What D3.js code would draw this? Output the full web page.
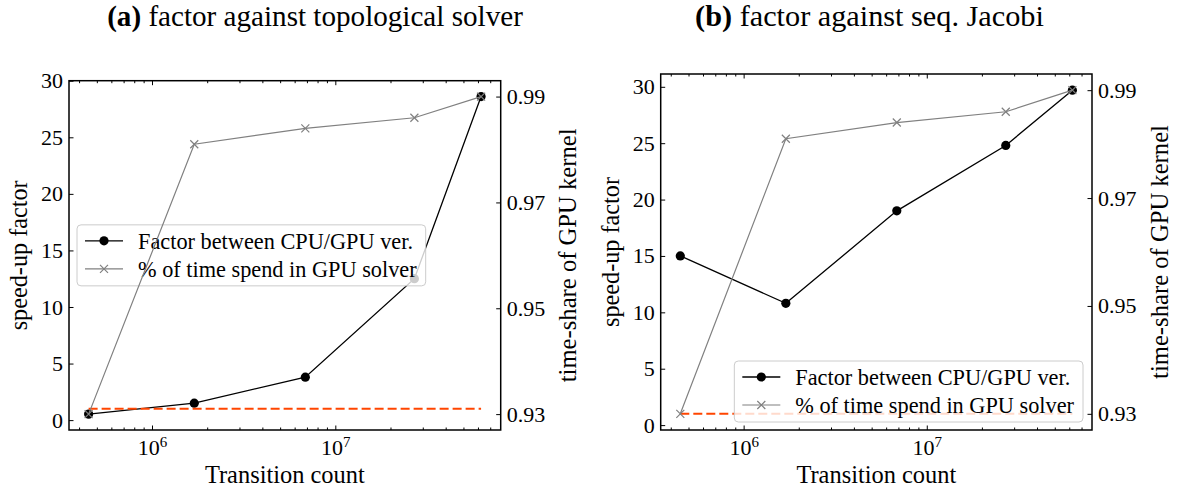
<!DOCTYPE html>
<html><head><meta charset="utf-8">
<script src="https://cdn.jsdelivr.net/npm/d3@7"></script>
<style>
body{margin:0;background:#fff}
svg text{font-family:"Liberation Serif","Times New Roman",serif;fill:#000}
</style>
</head><body>
<svg id="c" width="1177" height="489"></svg>
<script>
// ---- data ----
const transitions = [4.51e5, 1.70e6, 6.86e6, 2.70e7, 6.24e7];
const factorTopological = [0.53, 1.5, 3.8, 12.5, 28.6];
const factorJacobi = [15.0, 10.8, 19.0, 24.8, 29.7];
const gpuShare = [0.930, 0.981, 0.984, 0.986, 0.990];
const referenceFactor = 1;
const leftTicks = [0, 5, 10, 15, 20, 25, 30];
const rightTicks = [0.93, 0.95, 0.97, 0.99];
const xMajorTicks = [1e6, 1e7];
const panelTags = ["(a)", "(b)"];
const panelTitles = ["factor against topological solver", "factor against seq. Jacobi"];
const legendLabels = ["Factor between CPU/GPU ver.", "% of time spend in GPU solver"];
const xLabel = "Transition count";
const yLabel = "speed-up factor";
const y2Label = "time-share of GPU kernel";

// ---- layout ----
const panels = [
  {left: 69, right: 500.7, top: 80.7, bottom: 430, factor: factorTopological, legend: "centerLeft",
   titleCx: 315, titleW: 416},
  {left: 660.7, right: 1092, top: 74, bottom: 430, factor: factorJacobi, legend: "lowerRight",
   titleCx: 869.5, titleW: 349}
];

const svg = d3.select("#c");
const FONT = '"Liberation Serif","Times New Roman",serif';

function fit(sel, target) {
  const n = sel.node();
  const fs = parseFloat(sel.attr("font-size"));
  const w = n.getComputedTextLength();
  sel.attr("font-size", fs * target / w);
}

function padExtent(arr, frac) {
  const [a, b] = d3.extent(arr);
  const m = (b - a) * frac;
  return [a - m, b + m];
}

panels.forEach((p, i) => {
  const g = svg.append("g");
  const lx = d3.extent(transitions.map(Math.log10));
  const mx = (lx[1] - lx[0]) * 0.05;
  const x = d3.scaleLog().domain([Math.pow(10, lx[0] - mx), Math.pow(10, lx[1] + mx)]).range([p.left, p.right]);
  const y = d3.scaleLinear().domain(padExtent(p.factor.concat([referenceFactor]), 0.05)).range([p.bottom, p.top]);
  const y2 = d3.scaleLinear().domain(padExtent(gpuShare, 0.05)).range([p.bottom, p.top]);

  const pts = transitions.map((t, k) => ({t, f: p.factor[k], s: gpuShare[k]}));

  // ax1: factor line
  g.append("path").datum(pts)
    .attr("d", d3.line().x(d => x(d.t)).y(d => y(d.f)))
    .attr("fill", "none").attr("stroke", "#000").attr("stroke-width", 1.3);
  g.append("g").selectAll("circle").data(pts).join("circle")
    .attr("cx", d => x(d.t)).attr("cy", d => y(d.f)).attr("r", 4.6).attr("fill", "#000");
  // reference dashed line
  g.append("line")
    .attr("x1", x(transitions[0])).attr("x2", x(transitions[transitions.length - 1]))
    .attr("y1", y(referenceFactor)).attr("y2", y(referenceFactor))
    .attr("stroke", "#ff4500").attr("stroke-width", 2).attr("stroke-dasharray", "9,4");

  // axes ticks
  const styleAxis = a => {
    a.attr("font-family", FONT).attr("font-size", 22);
    a.select(".domain").remove();
    a.selectAll(".tick line").attr("stroke", "#000").attr("stroke-width", 1);
  };
  const minor = x.ticks().filter(v => !xMajorTicks.some(m => Math.abs(m - v) / m < 1e-9));

  g.append("g").attr("transform", `translate(${p.left},0)`)
    .call(d3.axisLeft(y).tickValues(leftTicks).tickSize(-4.5).tickPadding(6).tickFormat(d3.format("d")))
    .call(styleAxis);
  g.append("g").attr("transform", `translate(${p.right},0)`)
    .call(d3.axisRight(y2).tickValues(rightTicks).tickSize(-4.5).tickPadding(6).tickFormat(d3.format(".2f")))
    .call(styleAxis);

  const xb = g.append("g").attr("transform", `translate(0,${p.bottom})`)
    .call(d3.axisBottom(x).tickValues(xMajorTicks).tickSize(-4.5).tickPadding(5).tickFormat(() => ""))
    .call(styleAxis);
  xb.selectAll(".tick text").each(function(d) {
    const t = d3.select(this).attr("dy", "0.9em");
    t.append("tspan").text("10");
    t.append("tspan").attr("font-size", 15).attr("dy", "-0.55em").text(Math.round(Math.log10(d)));
  });
  g.append("g").attr("transform", `translate(0,${p.bottom})`)
    .call(d3.axisBottom(x).tickValues(minor).tickSize(-2.5).tickFormat(() => "")).call(styleAxis);
  g.append("g").attr("transform", `translate(0,${p.top})`)
    .call(d3.axisTop(x).tickValues(xMajorTicks).tickSize(-4.5).tickFormat(() => "")).call(styleAxis);
  g.append("g").attr("transform", `translate(0,${p.top})`)
    .call(d3.axisTop(x).tickValues(minor).tickSize(-2.5).tickFormat(() => "")).call(styleAxis);

  // legend (ax1)
  const lg = g.append("g");
  const box = lg.append("rect").attr("rx", 4).attr("ry", 4)
    .attr("fill", "#fff").attr("fill-opacity", 0.8).attr("stroke", "#cccccc").attr("stroke-width", 1);
  const t1 = lg.append("text").attr("font-size", 22).text(legendLabels[0]);
  fit(t1, 275);
  const lfs = parseFloat(t1.attr("font-size"));
  const t2 = lg.append("text").attr("font-size", lfs).text(legendLabels[1]);
  const tw = Math.max(t1.node().getComputedTextLength(), t2.node().getComputedTextLength());
  const bw = 61 + tw + 9, bh = 61;
  let bx, by;
  if (p.legend === "centerLeft") { bx = p.left + 8; by = (p.top + p.bottom) / 2 - bh / 2; }
  else { bx = p.right - 9 - bw; by = p.bottom - 8 - bh; }
  box.attr("x", bx).attr("y", by).attr("width", bw).attr("height", bh);
  const r1 = by + 16, r2 = by + 44;
  t1.attr("x", bx + 61).attr("y", r1).attr("dy", "0.35em");
  t2.attr("x", bx + 61).attr("y", r2).attr("dy", "0.35em");
  lg.append("line").attr("x1", bx + 8).attr("x2", bx + 46).attr("y1", r1).attr("y2", r1)
    .attr("stroke", "#000").attr("stroke-width", 1.3);
  lg.append("circle").attr("cx", bx + 27).attr("cy", r1).attr("r", 4.6).attr("fill", "#000");
  lg.append("line").attr("x1", bx + 8).attr("x2", bx + 46).attr("y1", r2).attr("y2", r2)
    .attr("stroke", "#808080").attr("stroke-width", 1.2);
  lg.append("path").attr("d", `M${bx+23},${r2-4}L${bx+31},${r2+4}M${bx+23},${r2+4}L${bx+31},${r2-4}`)
    .attr("stroke", "#808080").attr("stroke-width", 1.2);

  // ax2: GPU share line
  g.append("path").datum(pts)
    .attr("d", d3.line().x(d => x(d.t)).y(d => y2(d.s)))
    .attr("fill", "none").attr("stroke", "#808080").attr("stroke-width", 1.2);
  g.append("g").selectAll("path").data(pts).join("path")
    .attr("d", d => { const cx = x(d.t), cy = y2(d.s); return `M${cx-4},${cy-4}L${cx+4},${cy+4}M${cx-4},${cy+4}L${cx+4},${cy-4}`; })
    .attr("stroke", "#808080").attr("stroke-width", 1.2);

  // spines
  g.append("rect").attr("x", p.left).attr("y", p.top)
    .attr("width", p.right - p.left).attr("height", p.bottom - p.top)
    .attr("fill", "none").attr("stroke", "#000").attr("stroke-width", 1.5);

  // labels
  const cx = (p.left + p.right) / 2, cy = (p.top + p.bottom) / 2;
  const xl = g.append("text").attr("x", cx).attr("y", 483).attr("text-anchor", "middle")
    .attr("font-size", 23).text(xLabel);
  fit(xl, 160);
  const yl = g.append("text").attr("text-anchor", "middle").attr("dy", "0.35em")
    .attr("transform", `translate(${p.left - 50},${cy}) rotate(-90)`).attr("font-size", 23).text(yLabel);
  fit(yl, 150);
  const y2l = g.append("text").attr("text-anchor", "middle").attr("dy", "0.35em")
    .attr("transform", `translate(${p.right + 67},${cy}) rotate(-90)`).attr("font-size", 23).text(y2Label);
  fit(y2l, 254);

  // title
  const tt = g.append("text").attr("x", p.titleCx).attr("y", 26).attr("text-anchor", "middle").attr("font-size", 26);
  tt.append("tspan").attr("font-weight", "bold").text(panelTags[i]);
  tt.append("tspan").text(" " + panelTitles[i]);
  fit(tt, p.titleW);
});
</script>
</body></html>
